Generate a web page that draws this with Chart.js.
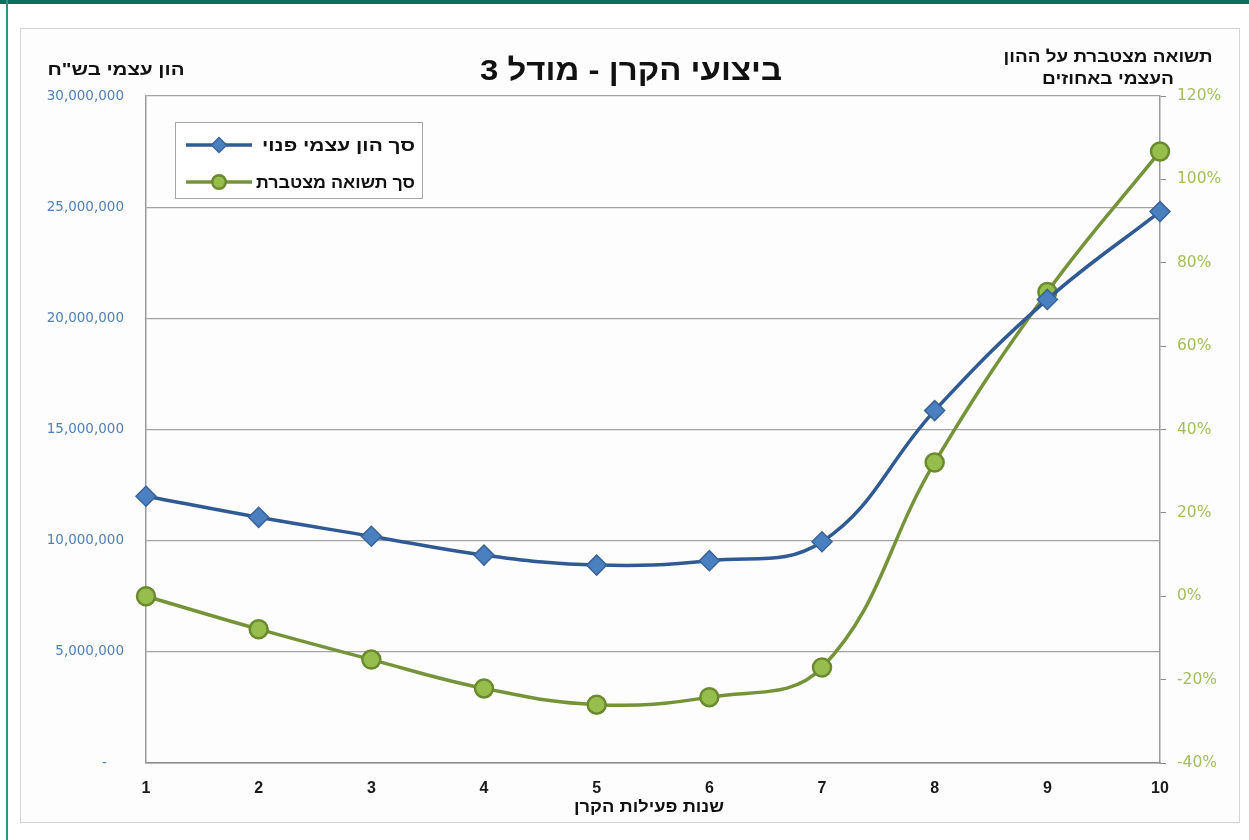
<!DOCTYPE html>
<html lang="he">
<head>
<meta charset="utf-8">
<script src="https://cdn.jsdelivr.net/npm/chart.js@4/dist/chart.umd.min.js"></script>
<style>
  body { margin: 0; background: #fff; }
  #wrap { position: relative; width: 1249px; height: 840px; overflow: hidden; }
  #topbar { position: absolute; left: 0; top: 0; width: 1249px; height: 4px; background: #0b6f5c; }
  #leftline { position: absolute; left: 6px; top: 0; width: 2px; height: 840px; background: #2e937c; }
  #panel { position: absolute; left: 20px; top: 28px; width: 1218px; height: 793px; border: 1px solid #d4d4d4; background: #fdfdfd; }
  #chart { position: absolute; left: 0; top: 0; }
</style>
</head>
<body>
<div id="wrap">
  <div id="topbar"></div>
  <div id="leftline"></div>
  <div id="panel"></div>
  <canvas id="chart" width="1249" height="840"></canvas>
</div>
<script>
// שנות פעילות הקרן
const years = ['1', '2', '3', '4', '5', '6', '7', '8', '9', '10'];

// סך הון עצמי פנוי (ש"ח)
const equity = [12000000, 11050000, 10200000, 9350000, 8900000, 9100000, 9950000, 15850000, 20850000, 24800000];

// סך תשואה מצטברת (%)
const cumReturn = [0, -7.9, -15.2, -22.1, -26.0, -24.2, -17.1, 32.1, 73.0, 106.7];

const chartTitle = 'ביצועי הקרן - מודל 3';
const leftTitle = 'הון עצמי בש"ח';
const rightTitle = ['תשואה מצטברת על ההון', 'העצמי באחוזים'];
const xTitle = 'שנות פעילות הקרן';
const seriesNames = ['סך הון עצמי פנוי', 'סך תשואה מצטברת'];

const blueLine = '#2f5a94';
const blueFill = '#4a7fc0';
const greenLine = '#76933a';
const greenFill = '#97bd4c';

const heb = '"Liberation Sans", Arial, sans-serif';

// draw bold Hebrew text stretched to the width it has in the Excel original
function fitText(ctx, text, x, y, size, width, align) {
  ctx.save();
  ctx.font = 'bold ' + size + 'px ' + heb;
  ctx.textAlign = align;
  const sx = width / ctx.measureText(text).width;
  ctx.translate(x, y);
  ctx.scale(sx, 1);
  ctx.fillText(text, 0, 0);
  ctx.restore();
}

const extras = {
  id: 'extras',
  afterDraw(chart) {
    const ctx = chart.ctx;
    ctx.save();
    ctx.direction = 'rtl';
    ctx.fillStyle = '#111';
    ctx.textBaseline = 'middle';

    fitText(ctx, chartTitle, 631, 72, 30, 302, 'center');
    fitText(ctx, leftTitle, 116, 70, 17, 137, 'center');
    fitText(ctx, rightTitle[0], 1108, 57, 16.5, 209, 'center');
    fitText(ctx, rightTitle[1], 1108, 79, 16.5, 132, 'center');
    fitText(ctx, xTitle, 649, 808, 16, 150, 'center');

    // legend
    ctx.fillStyle = '#fff';
    ctx.strokeStyle = '#a6a6a6';
    ctx.lineWidth = 1;
    ctx.fillRect(175, 122, 247, 76);
    ctx.strokeRect(175.5, 122.5, 247, 76);

    const rows = [145, 182];
    const widths = [153, 159];
    chart.data.datasets.forEach((ds, i) => {
      const y = rows[i];
      ctx.strokeStyle = ds.borderColor;
      ctx.lineWidth = ds.borderWidth;
      ctx.beginPath();
      ctx.moveTo(186, y);
      ctx.lineTo(252, y);
      ctx.stroke();
      ctx.fillStyle = ds.pointBackgroundColor;
      ctx.strokeStyle = ds.pointBorderColor;
      ctx.lineWidth = ds.pointBorderWidth;
      Chart.helpers.drawPoint(ctx, {
        pointStyle: ds.pointStyle,
        radius: ds.pointRadius * 0.75,
        rotation: 0,
        borderWidth: ds.pointBorderWidth
      }, 219, y);
      ctx.fillStyle = '#111';
      fitText(ctx, ds.label, 415, y + 1, 17, widths[i], 'right');
    });
    ctx.restore();
  }
};

new Chart(document.getElementById('chart'), {
  type: 'line',
  data: {
    labels: years,
    datasets: [
      {
        label: seriesNames[0],
        data: equity,
        yAxisID: 'y',
        borderColor: blueLine,
        borderWidth: 3.5,
        tension: 0.4,
        pointStyle: 'rectRot',
        pointRadius: 10,
        pointBackgroundColor: blueFill,
        pointBorderColor: '#3a6399',
        pointBorderWidth: 1.5
      },
      {
        label: seriesNames[1],
        data: cumReturn,
        yAxisID: 'y1',
        borderColor: greenLine,
        borderWidth: 3.5,
        tension: 0.4,
        pointStyle: 'circle',
        pointRadius: 9,
        pointBackgroundColor: greenFill,
        pointBorderColor: '#6b8a2e',
        pointBorderWidth: 2.5
      }
    ]
  },
  options: {
    responsive: false,
    animation: false,
    devicePixelRatio: 1,
    layout: { padding: { top: 96, bottom: 20, left: 0, right: 0 } },
    plugins: {
      legend: { display: false },
      title: { display: false },
      tooltip: { enabled: false }
    },
    scales: {
      x: {
        offset: false,
        grid: { display: false, drawTicks: false },
        border: { color: '#8c8c8c', width: 1.5 },
        ticks: {
          color: '#1a1a1a',
          padding: 16,
          font: { family: '"Liberation Sans", Arial, sans-serif', size: 16, weight: 'bold' }
        },
        afterFit(scale) { scale.height = 57; }
      },
      y: {
        position: 'left',
        min: 0,
        max: 30000000,
        ticks: {
          stepSize: 5000000,
          color: '#4f7fb8',
          padding: 22,
          font: { family: '"DejaVu Sans", sans-serif', size: 13.5 },
          callback: v => v === 0 ? '-    ' : v.toLocaleString('en-US')
        },
        grid: { color: '#a3a3a3', lineWidth: 1.2, drawTicks: false },
        border: { color: '#9a9a9a', width: 1.5 },
        afterFit(scale) { scale.width = 146; }
      },
      y1: {
        position: 'right',
        min: -40,
        max: 120,
        ticks: {
          stepSize: 20,
          color: '#a3bd5c',
          padding: 11,
          font: { family: '"DejaVu Sans", sans-serif', size: 15.5 },
          callback: v => v + '%'
        },
        grid: { drawOnChartArea: false, tickLength: 6, color: '#8c8c8c' },
        border: { color: '#9a9a9a', width: 1.5 },
        afterFit(scale) { scale.width = 89; }
      }
    }
  },
  plugins: [extras]
});
</script>
</body>
</html>
